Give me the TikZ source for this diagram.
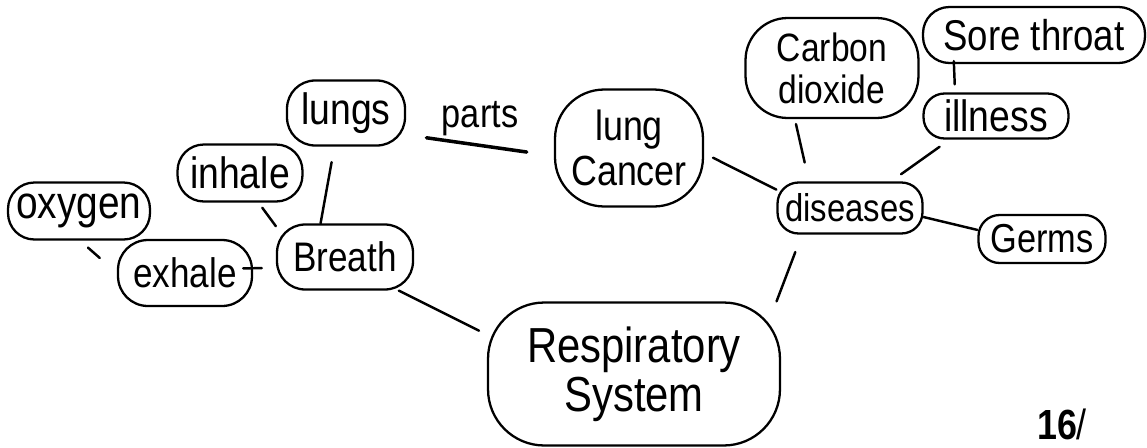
\documentclass[tikz,border=0pt]{standalone}
\usepackage{fontspec}
\setmainfont{Liberation Sans}[FakeStretch=0.85]

\begin{document}
\begin{tikzpicture}[
  x=0.02cm, y=-0.02cm,
  concept/.style={draw=black, line width=1.3pt, rounded corners=#1, inner sep=0pt,
                  align=center, font=\fontsize{23}{20}\selectfont},
  concept/.default=12pt,
  link/.style={line width=1.4pt, line cap=round},
  lab/.style={font=\fontsize{23}{24}\selectfont, inner sep=0pt},
]
\useasboundingbox (0,0) rectangle (1147,447);

% ---------- Breath cluster ----------
\node[concept=15pt, minimum width=2.84cm, minimum height=1.14cm,
      font=\fontsize{26}{26}\selectfont] (oxygen) at (79,211) {oxygen};
\node[concept=17pt, minimum width=2.68cm, minimum height=1.32cm,
      font=\fontsize{23.5}{24}\selectfont] (exhale) at (185,273) {exhale};
\node[concept=15pt, minimum width=2.5cm, minimum height=1.14cm,
      font=\fontsize{25}{25}\selectfont] (inhale) at (240,173) {inhale};
\node[concept=16pt, minimum width=2.72cm, minimum height=1.3cm,
      font=\fontsize{23.5}{24}\selectfont] (breath) at (345,257) {Breath};
\node[concept=16pt, minimum width=2.36cm, minimum height=1.3cm,
      font=\fontsize{25}{25}\selectfont] (lungs) at (346,113) {lungs};

\draw[link, shorten <=6pt, shorten >=13pt] (oxygen.-88) -- (exhale.180);
\draw[link, shorten <=-5.7pt, shorten >=8pt] (exhale.4) -- (breath.189);
\draw[link, shorten <=3.6pt] (inhale.-58) -- (breath.156);
\draw[link, shorten <=9pt] (lungs.-109) -- (breath.126);

% ---------- Centre ----------
\node[concept=28pt, minimum width=2.96cm, minimum height=2.34cm,
      font=\fontsize{24}{26}\selectfont] (cancer) at (629,148) {lung\\Cancer};
\node[concept=32pt, minimum width=5.84cm, minimum height=2.86cm,
      font=\fontsize{28}{28}\selectfont] (resp) at (634,374) {Respiratory\\System};

\draw[link, line width=2pt, shorten <=11.7pt, shorten >=15.6pt] (lungs.-20) -- (cancer.186)
      node[lab, pos=0.5, yshift=15pt] {parts};
\draw[link, shorten >=5pt] (breath.-32) -- (resp.165);

% ---------- Diseases cluster ----------
\node[concept, minimum width=2.9cm, minimum height=1.02cm,
      font=\fontsize{22}{22}\selectfont] (diseases) at (850,208) {diseases};
\node[concept=24pt, minimum width=3.46cm, minimum height=2cm,
      font=\fontsize{22.5}{24}\selectfont] (carbon) at (832,68) {Carbon\\dioxide};
\node[concept=15pt, minimum width=4.44cm, minimum height=1.12cm,
      font=\fontsize{24.5}{25}\selectfont] (sore) at (1034,35) {Sore throat};
\node[concept, minimum width=2.9cm, minimum height=0.9cm,
      font=\fontsize{25}{25}\selectfont] (illness) at (996,116) {illness};
\node[concept, minimum width=2.54cm, minimum height=0.96cm] (germs) at (1042,239) {Germs};

\draw[link, shorten <=5.7pt] (cancer.-4) -- (diseases.166);
\draw[link, shorten <=2.9pt, shorten >=11pt] (carbon.-126) -- (diseases.147);
\draw[link, shorten <=7pt, shorten >=7pt] (illness.-153) -- (diseases.33);
\draw[link] (diseases.-7) -- (germs.172);
\draw[link, shorten <=10.6pt] (diseases.-151) -- (resp.27);
\draw[link, shorten <=-1.7pt, shorten >=4.6pt] (sore.-160) -- (illness.150);

% ---------- Score ----------
\node[lab, font=\fontsize{24}{24}\selectfont] (score) at (1062,424) {\textbf{16}/};

\end{tikzpicture}
\end{document}
